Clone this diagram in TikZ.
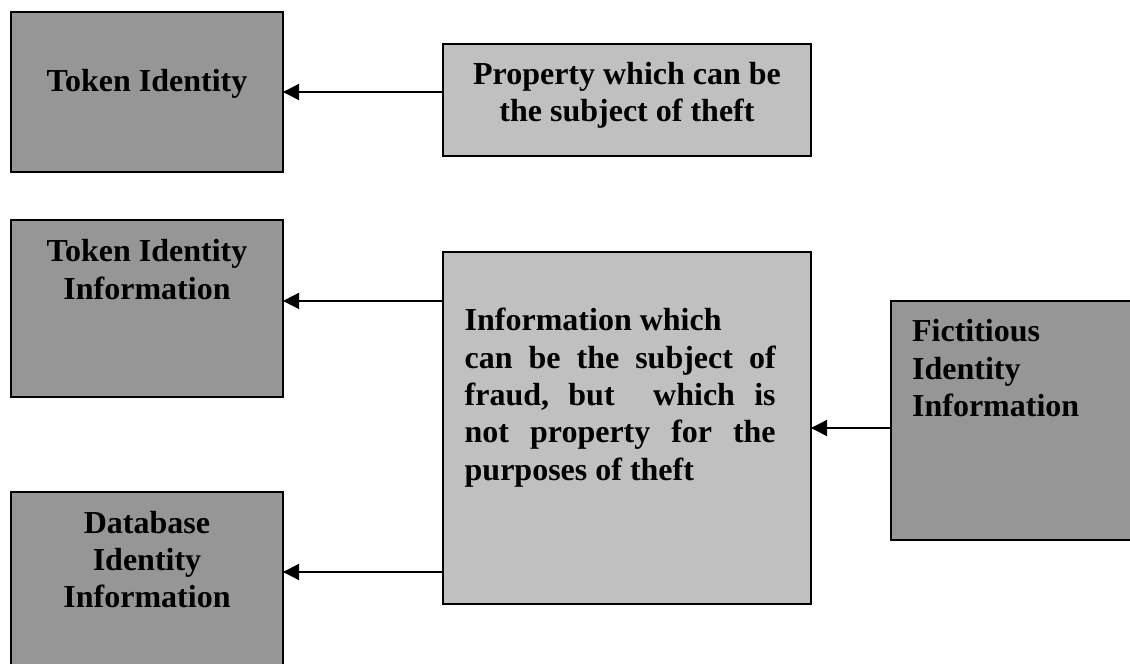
\documentclass[tikz,border=0pt]{standalone}
\usepackage{fontspec}
\setmainfont{Liberation Serif}
\usetikzlibrary{arrows.meta,calc}
\definecolor{darkbox}{HTML}{969696}
\definecolor{lightbox}{HTML}{C0C0C0}
\newcommand{\jline}[1]{\hbox to 155.5pt{#1}}
\begin{document}
\begin{tikzpicture}[x=0.5pt,y=-0.5pt,
  box/.style={draw=black, line width=0.8pt, rectangle, inner sep=0pt, outer sep=0pt, anchor=north west},
  darkfill/.style={box, fill=darkbox},
  lightfill/.style={box, fill=lightbox},
  label/.style={inner sep=0pt, anchor=base, font=\fontsize{16}{18.7}\selectfont\bfseries},
  link/.style={-{Triangle[length=8pt,width=8pt]}, line width=0.8pt}]
\useasboundingbox (0,0) rectangle (1130,664);
\clip (0,0) rectangle (1130,664);

% boxes
\node[darkfill, minimum width=136pt, minimum height=80pt] (ti) at (11,12) {};
\node[lightfill, minimum width=184pt, minimum height=56pt] (prop) at (443,44) {};
\node[darkfill, minimum width=136pt, minimum height=88.5pt] (tii) at (11,220) {};
\node[lightfill, minimum width=184pt, minimum height=176pt] (info) at (443,252) {};
\node[darkfill, minimum width=124.5pt, minimum height=119.5pt] (fict) at (891,301) {};
\node[darkfill, minimum width=136pt, minimum height=100pt] (db) at (11,492) {};

% labels
\node[label] (tiText) at (147,91.7) {Token Identity};
\node[label] (propText) at (627,84.3)
  {\begin{tabular}[t]{@{}c@{}}Property which can be\\the subject of theft\end{tabular}};
\node[label] (tiiText) at (147,261.7)
  {\begin{tabular}[t]{@{}c@{}}Token Identity\\Information\end{tabular}};
\node[label] (dbText) at (147,533)
  {\begin{tabular}[t]{@{}c@{}}Database\\Identity\\Information\end{tabular}};
\node[label, anchor=base west] (infoText) at (464.3,330.7)
  {\begin{tabular}[t]{@{}l@{}}Information which\\
   \jline{can\hfill be\hfill the\hfill subject\hfill of}\\
   \jline{fraud,\hfill but\hfill\hfill which\hfill is}\\
   \jline{not\hfill property\hfill for\hfill the}\\
   purposes of theft\end{tabular}};
\node[label, anchor=base west] (fictText) at (911.7,341.7)
  {\begin{tabular}[t]{@{}l@{}}Fictitious\\Identity\\Information\end{tabular}};

% connectors
\coordinate (upperOut) at ($(info.north west)!0.139!(info.south west)$);
\coordinate (lowerOut) at ($(info.north west)!0.909!(info.south west)$);
\draw[link] (prop.west |- ti.east) -- (ti.east);
\draw[link] (upperOut) -- (upperOut -| tii.east);
\draw[link] (lowerOut) -- (lowerOut -| db.east);
\draw[link] (fict.west |- info.east) -- (info.east);
\end{tikzpicture}
\end{document}
